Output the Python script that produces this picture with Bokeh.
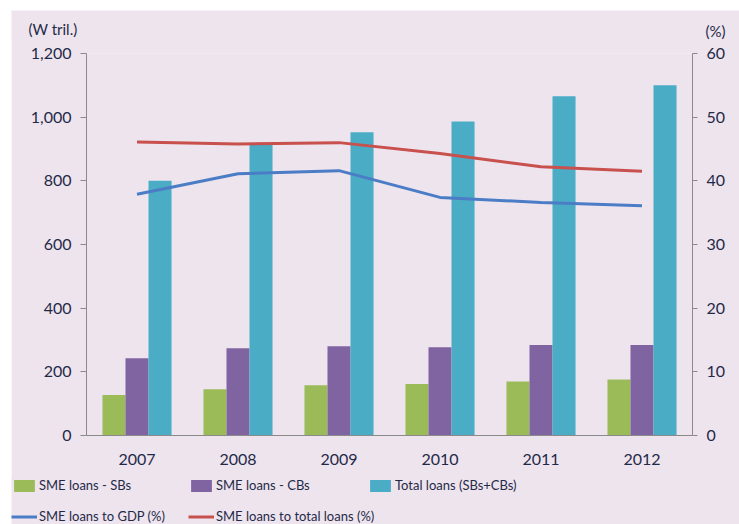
from bokeh.plotting import figure
from bokeh.models import (FactorRange, Range1d, LinearAxis, NumeralTickFormatter,
                          FixedTicker, Legend, LegendItem, Label, ColumnDataSource)
from bokeh.transform import dodge
from bokeh.embed import file_html
from bokeh.resources import INLINE

years = ["2007", "2008", "2009", "2010", "2011", "2012"]
sme_sbs = [127, 145, 158, 162, 170, 176]
sme_cbs = [243, 274, 280, 277, 284, 284]
total_loans = [800, 915, 953, 986, 1066, 1100]
sme_to_gdp = [37.9, 41.1, 41.6, 37.4, 36.6, 36.1]
sme_to_total = [46.1, 45.8, 46.0, 44.3, 42.2, 41.5]

left_ticks = [0, 200, 400, 600, 800, 1000, 1200]
right_ticks = [0, 10, 20, 30, 40, 50, 60]
unit_left = "(W tril.)"
unit_right = "(%)"
series_names = ["SME loans - SBs", "SME loans - CBs", "Total loans (SBs+CBs)",
                "SME loans to GDP (%)", "SME loans to total loans (%)"]

BG = "#EEE4EE"
TXT = "#1F2A48"
AX = "#8A8A8A"
FONT = "Lato"
C_SBS, C_CBS, C_TOT = "#9BBB59", "#8064A2", "#4BACC6"
C_GDP, C_TL = "#4A7DC6", "#C8504D"
W = 728


def strip(h, margin):
    f = figure(width=W, height=h, x_range=Range1d(0, 1), y_range=Range1d(0, 1),
               output_backend="svg", toolbar_location=None, min_border=0, margin=margin)
    f.axis.visible = False
    f.grid.visible = False
    f.outline_line_color = None
    f.background_fill_color = BG
    f.border_fill_color = BG
    return f


# ---- top strip with unit labels
top = strip(31, (10, 0, 0, 11))
top.add_layout(Label(x=17, y=13, x_units="screen", y_units="screen", text=unit_left,
                     text_font=FONT, text_font_size="15px", text_color=TXT,
                     text_baseline="middle", text_align="left"))
top.add_layout(Label(x=694, y=11, x_units="screen", y_units="screen", text=unit_right,
                     text_font=FONT, text_font_size="15px", text_color=TXT,
                     text_baseline="middle", text_align="left"))

# ---- main chart
src = ColumnDataSource(dict(years=years, sbs=sme_sbs, cbs=sme_cbs, tot=total_loans,
                            gdp=sme_to_gdp, tl=sme_to_total))

p = figure(width=W, height=435, x_range=FactorRange(*years), y_range=Range1d(0, 1200),
           output_backend="svg", toolbar_location=None, margin=(-1, 0, 0, 11),
           min_border_left=75, min_border_right=47, min_border_top=13, min_border_bottom=40)
p.extra_y_ranges = {"pct": Range1d(0, 60)}
p.background_fill_color = BG
p.border_fill_color = BG
p.outline_line_color = None
p.xgrid.grid_line_color = None
p.ygrid.grid_line_color = None
p.x_range.range_padding = 0

bw = 0.228
p.vbar(x=dodge("years", -bw, range=p.x_range), top="sbs", width=bw, source=src,
       fill_color=C_SBS, line_color=None)
p.vbar(x=dodge("years", 0, range=p.x_range), top="cbs", width=bw, source=src,
       fill_color=C_CBS, line_color=None)
p.vbar(x=dodge("years", bw, range=p.x_range), top="tot", width=bw, source=src,
       fill_color=C_TOT, line_color=None)
p.line(x="years", y="gdp", source=src, y_range_name="pct", line_color=C_GDP, line_width=3)
p.line(x="years", y="tl", source=src, y_range_name="pct", line_color=C_TL, line_width=3)

ya = p.yaxis[0]
ya.ticker = FixedTicker(ticks=left_ticks)
ya.formatter = NumeralTickFormatter(format="0,0")
ra = LinearAxis(y_range_name="pct", ticker=FixedTicker(ticks=right_ticks))
p.add_layout(ra, "right")
for ax, out in ((ya, 6), (ra, 5)):
    ax.minor_tick_line_color = None
    ax.major_tick_in = 0
    ax.major_tick_out = out
    ax.axis_line_color = AX
    ax.major_tick_line_color = AX
    ax.major_label_text_font = FONT
    ax.major_label_text_font_size = "16px"
    ax.major_label_text_color = TXT
    ax.major_label_standoff = 9

xa = p.xaxis[0]
xa.axis_line_color = AX
xa.major_tick_line_color = None
xa.minor_tick_line_color = None
xa.major_label_text_font = FONT
xa.major_label_text_font_size = "16px"
xa.major_label_text_color = TXT
xa.major_label_standoff = 12

# ---- bottom strip with legend (legend-only renderers sit outside the visible range)
bot = strip(50, (-1, 0, 0, 11))
lr1 = bot.vbar(x=[-5], top=[-5], width=0.1, fill_color=C_SBS, line_color=None)
lr2 = bot.vbar(x=[-5], top=[-5], width=0.1, fill_color=C_CBS, line_color=None)
lr3 = bot.vbar(x=[-5], top=[-5], width=0.1, fill_color=C_TOT, line_color=None)
lr4 = bot.line(x=[-6, -5], y=[-5, -5], line_color=C_GDP, line_width=3)
lr5 = bot.line(x=[-6, -5], y=[-5, -5], line_color=C_TL, line_width=3)

positions = [(0, 31), (177, 31), (356, 31), (0, 0), (177, 0)]
for rend, name, loc in zip([lr1, lr2, lr3, lr4, lr5], series_names, positions):
    lg = Legend(items=[LegendItem(label=name, renderers=[rend])], location=loc,
                orientation="horizontal", padding=0, margin=0, spacing=0,
                border_line_color=None, background_fill_alpha=0,
                glyph_width=26, glyph_height=15, label_standoff=2, label_height=15,
                label_text_font=FONT, label_text_font_size="13px", label_text_color=TXT)
    bot.add_layout(lg, "center")

open("out.html", "w").write(file_html([top, p, bot], INLINE))
